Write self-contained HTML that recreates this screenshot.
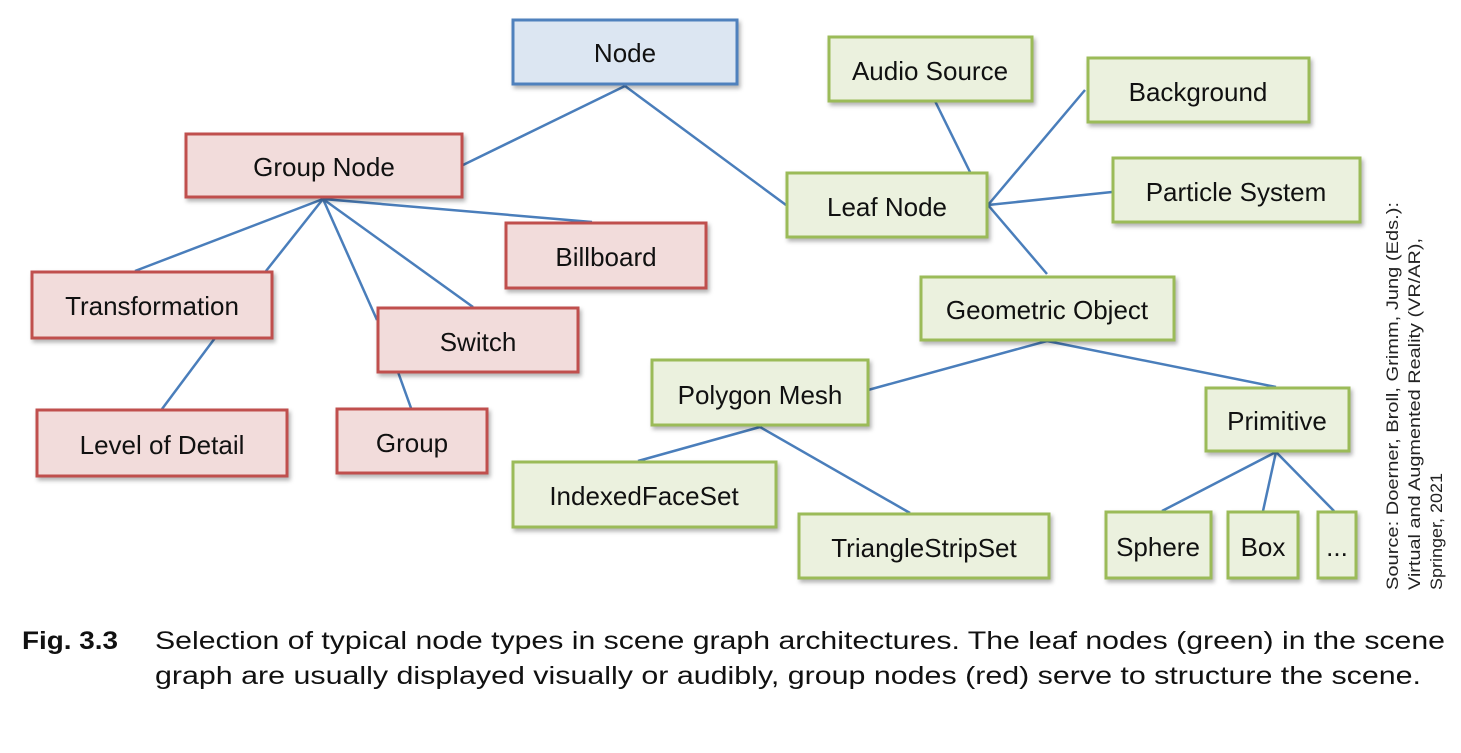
<!DOCTYPE html>
<html><head><meta charset="utf-8"><style>
html,body{margin:0;padding:0;background:#fff;}
svg{display:block;}
text{font-family:"Liberation Sans",sans-serif;}
</style></head><body>
<svg width="1461" height="753" viewBox="0 0 1461 753" xmlns="http://www.w3.org/2000/svg">
<defs>
<filter id="sh" x="-10%" y="-10%" width="130%" height="140%"><feDropShadow dx="2" dy="3" stdDeviation="2" flood-color="#000" flood-opacity="0.3"/></filter>
</defs>
<g stroke="#4a7ebb" stroke-width="2.5" fill="none">
<line x1="625" y1="86" x2="463" y2="165"/>
<line x1="625" y1="86" x2="786" y2="205"/>
<line x1="323" y1="199" x2="135" y2="271"/>
<line x1="323" y1="199" x2="266" y2="271"/>
<line x1="323" y1="199" x2="377" y2="320"/>
<line x1="323" y1="199" x2="473" y2="307"/>
<line x1="323" y1="199" x2="592" y2="222"/>
<line x1="215" y1="338" x2="162" y2="409"/>
<line x1="398" y1="372" x2="411" y2="408"/>
<line x1="935" y1="101" x2="970" y2="172"/>
<line x1="988" y1="205" x2="1085" y2="90"/>
<line x1="988" y1="205" x2="1112" y2="192"/>
<line x1="988" y1="205" x2="1047" y2="274"/>
<line x1="1047" y1="341" x2="868" y2="390"/>
<line x1="1047" y1="341" x2="1276" y2="387"/>
<line x1="760" y1="427" x2="638" y2="461"/>
<line x1="760" y1="427" x2="910" y2="513"/>
<line x1="1276" y1="452" x2="1162" y2="511"/>
<line x1="1276" y1="452" x2="1263" y2="511"/>
<line x1="1276" y1="452" x2="1334" y2="511"/>
</g>
<g stroke-width="3" filter="url(#sh)">
<rect x="513" y="20" width="224" height="64" fill="#dce6f2" stroke="#4f81bd"/>
<g fill="#f2dcdb" stroke="#c0504d">
<rect x="186" y="134" width="276" height="63"/>
<rect x="506" y="223" width="200" height="65"/>
<rect x="32" y="272" width="240" height="66"/>
<rect x="378" y="308" width="200" height="64"/>
<rect x="37" y="410" width="250" height="66"/>
<rect x="337" y="409" width="150" height="64"/>
</g>
<g fill="#ebf1de" stroke="#9bbb59">
<rect x="829" y="37" width="203" height="64"/>
<rect x="1088" y="58" width="221" height="64"/>
<rect x="787" y="173" width="200" height="64"/>
<rect x="1113" y="158" width="247" height="64"/>
<rect x="921" y="277" width="253" height="63"/>
<rect x="652" y="360" width="216" height="65"/>
<rect x="1206" y="388" width="143" height="63"/>
<rect x="513" y="462" width="263" height="65"/>
<rect x="799" y="514" width="250" height="64"/>
<rect x="1106" y="512" width="105" height="66"/>
<rect x="1228" y="512" width="70" height="66"/>
<rect x="1318" y="512" width="38" height="66"/>
</g>
</g>
<g font-size="26" fill="#111" text-anchor="middle">
<text x="625" y="62">Node</text>
<text x="324" y="176">Group Node</text>
<text x="606" y="266">Billboard</text>
<text x="152" y="315">Transformation</text>
<text x="478" y="351">Switch</text>
<text x="162" y="454">Level of Detail</text>
<text x="412" y="452">Group</text>
<text x="930" y="80">Audio Source</text>
<text x="1198" y="101">Background</text>
<text x="887" y="216">Leaf Node</text>
<text x="1236" y="201">Particle System</text>
<text x="1047" y="319">Geometric Object</text>
<text x="760" y="404">Polygon Mesh</text>
<text x="1277" y="430">Primitive</text>
<text x="644" y="505">IndexedFaceSet</text>
<text x="924" y="557">TriangleStripSet</text>
<text x="1158" y="556">Sphere</text>
<text x="1263" y="556">Box</text>
<text x="1337" y="556">...</text>
</g>
<g font-size="17" fill="#222">
<g transform="translate(1398,590) rotate(-90)"><text x="0" y="0" textLength="388" lengthAdjust="spacingAndGlyphs">Source: Doerner, Broll, Grimm, Jung (Eds.):</text></g>
<g transform="translate(1420,590) rotate(-90)"><text x="0" y="0" textLength="352" lengthAdjust="spacingAndGlyphs">Virtual and Augmented Reality (VR/AR),</text></g>
<g transform="translate(1442,590) rotate(-90)"><text x="0" y="0" textLength="117" lengthAdjust="spacingAndGlyphs">Springer, 2021</text></g>
</g>
<g font-size="25" fill="#111">
<text x="22" y="649" font-weight="bold" textLength="96" lengthAdjust="spacingAndGlyphs">Fig. 3.3</text>
<text x="155" y="649" textLength="1290" lengthAdjust="spacingAndGlyphs">Selection of typical node types in scene graph architectures. The leaf nodes (green) in the scene</text>
<text x="155" y="684" textLength="1266" lengthAdjust="spacingAndGlyphs">graph are usually displayed visually or audibly, group nodes (red) serve to structure the scene.</text>
</g>
</svg>
</body></html>
